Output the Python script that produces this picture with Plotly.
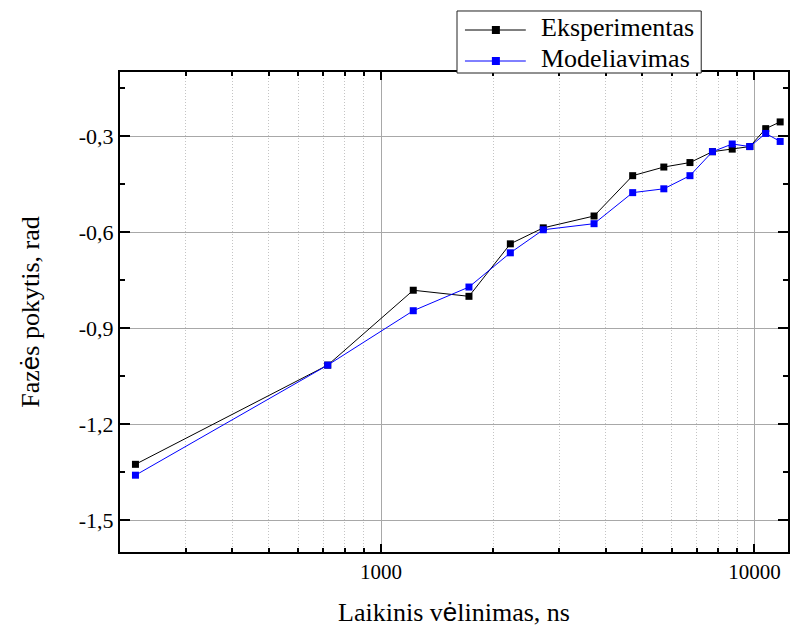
import math
import plotly.graph_objects as go

# Time delay, ns
delay_ns = [220, 720, 1220, 1720, 2220, 2720, 3720, 4720, 5720, 6720, 7720, 8720, 9720, 10720, 11720]

# Phase shift, rad
experiment = [-1.326, -1.016, -0.782, -0.801, -0.637, -0.587, -0.550, -0.424, -0.397,
              -0.383, -0.349, -0.341, -0.333, -0.277, -0.256]
model = [-1.360, -1.016, -0.846, -0.772, -0.665, -0.593, -0.574, -0.477, -0.465,
         -0.424, -0.349, -0.325, -0.333, -0.292, -0.317]

series_names = ["Eksperimentas", "Modeliavimas"]
series_colors = ["black", "#0000ff"]

y_tickvals = [-1.5, -1.2, -0.9, -0.6, -0.3]
y_ticktext = ["-1,5", "-1,2", "-0,9", "-0,6", "-0,3"]
y_minor = [-1.35, -1.05, -0.75, -0.45, -0.15]

x_tickvals = [1000, 10000]
x_ticktext = ["1000", "10000"]
x_minor = [200, 300, 400, 500, 600, 700, 800, 900,
           2000, 3000, 4000, 5000, 6000, 7000, 8000, 9000]

SERIF = "Liberation Serif, Times New Roman, serif"
SANS_E = "<span style=\"font-family:Liberation Sans\">ė</span>"

fig = go.Figure()
for name, color, values in zip(series_names, series_colors, [experiment, model]):
    fig.add_trace(go.Scatter(
        x=delay_ns, y=values, name=name, mode="lines+markers", showlegend=False,
        line=dict(color=color, width=1),
        marker=dict(symbol="square", size=7, color=color),
    ))

# Boxed legend sitting across the top frame (paper coordinates)
box_x0, box_x1, box_y0, box_y1 = 0.5045, 0.8701, 0.9979, 1.1271
line_x0, line_x1, marker_x, text_x = 0.5164, 0.6075, 0.5627, 0.6269
row_y = [1.0875, 1.0229]

shapes = [dict(type="rect", xref="paper", yref="paper", layer="above",
               x0=box_x0, x1=box_x1, y0=box_y0, y1=box_y1,
               fillcolor="white", line=dict(color="#222222", width=1))]
annotations = []
for name, color, ry in zip(series_names, series_colors, row_y):
    shapes.append(dict(type="line", xref="paper", yref="paper", layer="above",
                       x0=line_x0, x1=line_x1, y0=ry, y1=ry,
                       line=dict(color=color, width=1)))
    shapes.append(dict(type="rect", xref="paper", yref="paper", layer="above",
                       xsizemode="pixel", ysizemode="pixel",
                       xanchor=marker_x, yanchor=ry,
                       x0=-4, x1=4, y0=-4, y1=4,
                       fillcolor=color, line=dict(width=0)))
    annotations.append(dict(xref="paper", yref="paper", x=text_x, y=ry, yshift=3,
                            xanchor="left", yanchor="middle", showarrow=False,
                            text=name, font=dict(family=SERIF, size=26, color="black")))

fig.update_layout(
    width=791, height=627,
    margin=dict(l=120, r=1, t=72, b=75),
    paper_bgcolor="white", plot_bgcolor="white",
    font=dict(family=SERIF, size=21, color="black"),
    showlegend=False,
    shapes=shapes,
    annotations=annotations,
)

fig.update_xaxes(
    type="log", range=[math.log10(200), math.log10(12300)],
    tickmode="array", tickvals=x_tickvals, ticktext=x_ticktext,
    ticks="inside", ticklen=8, tickwidth=2, tickcolor="black",
    showline=True, linewidth=2, linecolor="black", mirror="allticks",
    showgrid=True, gridcolor="#a8a8a8", gridwidth=1,
    zeroline=False,
    tickfont=dict(family=SERIF, size=21),
    minor=dict(tickmode="array", tickvals=x_minor, ticks="inside", ticklen=4,
               tickwidth=1.5, tickcolor="black",
               showgrid=True, gridcolor="#c4c4c4", gridwidth=1, griddash="1px,2px"),
    title=dict(text="Laikinis v" + SANS_E + "linimas, ns",
               font=dict(family=SERIF, size=26), standoff=20),
)

fig.update_yaxes(
    range=[-1.6, -0.1],
    tickmode="array", tickvals=y_tickvals, ticktext=y_ticktext,
    ticks="inside", ticklen=10, tickwidth=2, tickcolor="black",
    showline=True, linewidth=2, linecolor="black", mirror="allticks",
    showgrid=True, gridcolor="#a8a8a8", gridwidth=1,
    zeroline=False,
    tickfont=dict(family=SERIF, size=22),
    minor=dict(tickmode="array", tickvals=y_minor, ticks="inside", ticklen=5,
               tickwidth=1.5, tickcolor="black", showgrid=False),
    title=dict(text="Faz" + SANS_E + "s pokytis, rad",
               font=dict(family=SERIF, size=26), standoff=32),
)

fig.write_html("out.html")
